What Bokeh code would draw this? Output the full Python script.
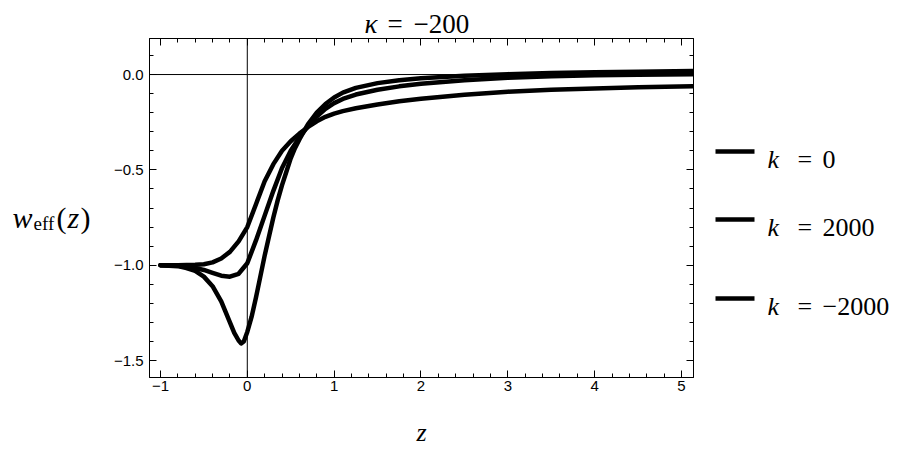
import numpy as np
from bokeh.plotting import figure
from bokeh.layouts import row, column
from bokeh.models import Range1d, LinearAxis, Span, Label, FixedTicker
from bokeh.embed import file_html
from bokeh.resources import INLINE

# Effective equation of state w_eff(z) for kappa = -200 and three values of k
z_k0 = [-1.0, -0.8, -0.6, -0.5, -0.4, -0.3, -0.2, -0.1, 0.0, 0.1, 0.2, 0.3, 0.4,
        0.5, 0.6, 0.7, 0.8, 0.9, 1.0, 1.1, 1.25, 1.5, 1.75, 2.0, 2.5, 3.0, 3.5, 4.0,
        4.5, 5.13]
w_k0 = [-1.0, -1.0, -0.998, -0.995, -0.985, -0.965, -0.93, -0.875, -0.80, -0.68, -0.56,
        -0.47, -0.40, -0.35, -0.31, -0.275, -0.245, -0.222, -0.205, -0.192, -0.177,
        -0.157, -0.14, -0.127, -0.106, -0.09, -0.08, -0.073, -0.067, -0.062]

z_kp = [-1.0, -0.8, -0.6, -0.5, -0.4, -0.3, -0.2, -0.1, 0.0, 0.1, 0.2, 0.3, 0.4,
        0.5, 0.6, 0.7, 0.8, 0.9, 1.0, 1.1, 1.25, 1.5, 1.75, 2.0, 2.5, 3.0, 3.5, 4.0,
        4.5, 5.13]
w_kp = [-1.0, -1.003, -1.015, -1.025, -1.04, -1.055, -1.06, -1.045, -0.99, -0.87, -0.74,
        -0.61, -0.49, -0.40, -0.33, -0.27, -0.22, -0.18, -0.15, -0.128, -0.105, -0.08,
        -0.062, -0.048, -0.03, -0.017, -0.009, -0.004, -0.001, 0.002]

z_km = [-1.0, -0.8, -0.7, -0.6, -0.5, -0.4, -0.3, -0.2, -0.15, -0.1, -0.07, -0.04, 0.0,
        0.05, 0.1, 0.15, 0.2, 0.25, 0.3, 0.35, 0.4, 0.45, 0.5, 0.55, 0.6, 0.65, 0.7,
        0.75, 0.8, 0.9, 1.0, 1.1, 1.25, 1.5, 1.75, 2.0, 2.5, 3.0, 3.5, 4.0, 4.5, 5.13]
w_km = [-1.0, -1.005, -1.015, -1.03, -1.06, -1.11, -1.19, -1.30, -1.355, -1.395, -1.41,
        -1.40, -1.35, -1.27, -1.17, -1.06, -0.95, -0.85, -0.75, -0.66, -0.58, -0.51,
        -0.44, -0.385, -0.34, -0.30, -0.26, -0.23, -0.20, -0.155, -0.12, -0.095, -0.07,
        -0.045, -0.03, -0.02, -0.006, 0.002, 0.008, 0.012, 0.015, 0.018]

legend_values = ["0", "2000", "\u22122000"]

x_ticks = [-1, 0, 1, 2, 3, 4, 5]
x_tick_labels = ["\u22121", "0", "1", "2", "3", "4", "5"]
y_ticks = [-1.5, -1.0, -0.5, 0.0]
y_tick_labels = ["\u22121.5", "\u22121.0", "\u22120.5", "0.0"]

X_RANGE = (-1.126, 5.138)
Y_RANGE = (-1.589, 0.189)
PAGE_W, PAGE_H = 906, 451
TITLE_H = 38                 # strip above the frame holding the title
H = PAGE_H - TITLE_H         # height of the row with the plot
BOTTOM = 74                  # frame ends 74 px above the page bottom
LEFT_W = 110                 # panel holding the vertical-axis title
MAIN_W = 593                 # panel holding the plot frame
RIGHT_W = PAGE_W - LEFT_W - MAIN_W   # panel holding the legend

SERIF = "Liberation Serif"
SANS = "Liberation Sans"


def text_panel(x0, width, y_top, height, border_bottom=0):
    """Blank figure whose data coordinates are page pixels (y downwards)."""
    f = figure(width=width, height=height, x_range=Range1d(x0, x0 + width),
               y_range=Range1d(y_top + height - border_bottom, y_top),
               output_backend="svg", toolbar_location=None,
               x_axis_location=None, y_axis_location=None,
               min_border_left=0, min_border_right=0,
               min_border_top=0, min_border_bottom=border_bottom, outline_line_color=None)
    f.grid.visible = False
    f.background_fill_color = "white"
    f.border_fill_color = "white"
    return f


def put(f, px, py, s, size, style="normal"):
    f.add_layout(Label(x=px, y=py, text=s, text_font=SERIF, text_font_size=f"{size}px",
                       text_font_style=style, text_color="black", text_align="left",
                       text_baseline="alphabetic"))


# ---- main plot -------------------------------------------------------------
p = figure(width=MAIN_W, height=H, x_range=Range1d(*X_RANGE), y_range=Range1d(*Y_RANGE),
           output_backend="svg", toolbar_location=None,
           x_axis_location=None, y_axis_location=None,
           min_border_left=147 - LEFT_W, min_border_right=10,
           min_border_top=0, min_border_bottom=BOTTOM)
p.grid.visible = False
p.outline_line_color = "black"
p.outline_line_width = 1
p.background_fill_color = "white"
p.border_fill_color = "white"


def key(t):
    return int(t) if float(t).is_integer() else float(t)


def frame_axis(ticks, labels, minors, show_labels):
    ax = LinearAxis(ticker=FixedTicker(ticks=ticks, minor_ticks=minors))
    ax.major_label_overrides = {key(t): (lab if show_labels else "") for t, lab in zip(ticks, labels)}
    ax.major_tick_in = 7
    ax.major_tick_out = 0
    ax.minor_tick_in = 4
    ax.minor_tick_out = 0
    ax.axis_line_color = "black"
    ax.major_tick_line_color = "black"
    ax.minor_tick_line_color = "black"
    ax.major_label_text_font = SANS
    ax.major_label_text_font_size = "15px" if show_labels else "0px"
    ax.major_label_text_color = "black"
    if not show_labels:
        ax.major_label_standoff = 0
    return ax


x_minor = [round(v, 2) for v in np.arange(-1.0, 5.01, 0.2)]
y_minor = [round(v, 2) for v in np.arange(-1.5, 0.11, 0.1)]

bottom_ax = frame_axis(x_ticks, x_tick_labels, x_minor, True)
bottom_ax.major_label_standoff = 3
bottom_ax.axis_label = "z"
bottom_ax.axis_label_text_font = SERIF
bottom_ax.axis_label_text_font_style = "italic"
bottom_ax.axis_label_text_font_size = "26px"
bottom_ax.axis_label_text_color = "black"
bottom_ax.axis_label_standoff = 24
left_ax = frame_axis(y_ticks, y_tick_labels, y_minor, True)
left_ax.major_label_standoff = 6
top_ax = frame_axis(x_ticks, x_tick_labels, x_minor, False)
right_ax = frame_axis(y_ticks, y_tick_labels, y_minor, False)
p.add_layout(bottom_ax, "below")
p.add_layout(left_ax, "left")
p.add_layout(top_ax, "above")
p.add_layout(right_ax, "right")

# coordinate axes through the origin
p.add_layout(Span(location=0, dimension="height", line_color="black", line_width=1))
p.add_layout(Span(location=0, dimension="width", line_color="black", line_width=1))

for zs, ws in [(z_k0, w_k0), (z_kp, w_kp), (z_km, w_km)]:
    p.line(zs, ws, line_color="black", line_width=4.5, line_join="round", line_cap="round")

# ---- title  kappa = -200 -----------------------------------------------------
top = text_panel(0, PAGE_W, 0, TITLE_H)
put(top, 364, 23, "\u03ba", 27, "italic")
put(top, 387, 23, "=", 27)
put(top, 413, 23, "\u2212200", 27)

# ---- vertical-axis title  w_eff(z) ---------------------------------------
left = text_panel(0, LEFT_W, TITLE_H, H, BOTTOM)
put(left, 12, 217, "w", 30, "italic")
put(left, 33, 223, "eff", 19)
put(left, 56, 217, "(", 30)
put(left, 67, 217, "z", 30, "italic")
put(left, 80, 217, ")", 30)

# ---- legend ------------------------------------------------------------------
right = text_panel(LEFT_W + MAIN_W, RIGHT_W, TITLE_H, H, BOTTOM)
legend_y = [151, 219, 298]
right.segment(x0=[715] * 3, y0=legend_y, x1=[754] * 3, y1=legend_y,
              line_color="black", line_width=4.5)
for val, yy in zip(legend_values, legend_y):
    put(right, 767, yy + 8, "k", 26, "italic")
    put(right, 797, yy + 8, "=", 26)
    put(right, 822, yy + 8, val, 26)

layout = column(top, row(left, p, right))
open("out.html", "w").write(file_html(layout, INLINE))
